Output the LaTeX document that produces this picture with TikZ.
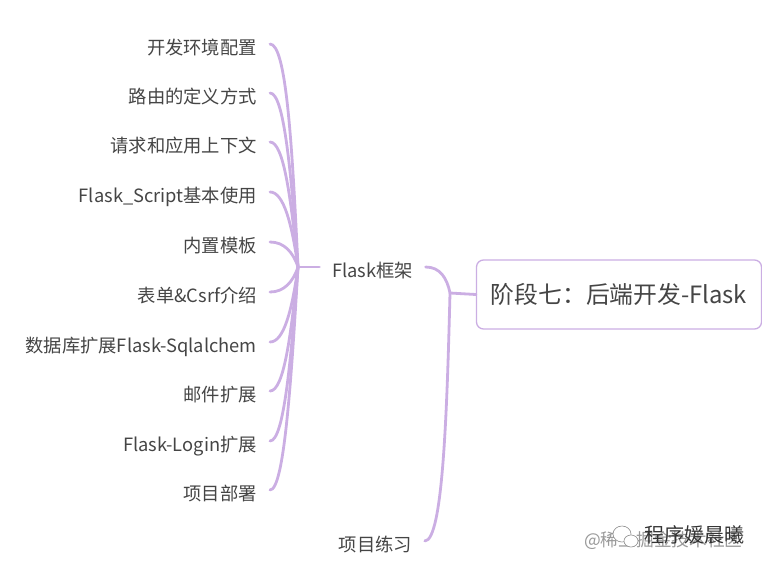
\documentclass[tikz,border=0pt]{standalone}
\usepackage{xcolor}
\usepackage{fontspec}
\setmainfont{Noto Sans CJK SC}
\usetikzlibrary{positioning}
\definecolor{branchpurple}{HTML}{CBAEE3}
\definecolor{labelgray}{HTML}{454545}

\begin{document}
\begin{tikzpicture}[x=1pt, y=-1pt,
		leaf/.style={anchor=east, inner xsep=13pt, inner ysep=0pt, text height=21pt, text depth=0pt, text=labelgray, font=\fontsize{18.3}{18.3}\selectfont},
		topic/.style={leaf, anchor=center, inner xsep=12.5pt},
		rootbox/.style={draw=branchpurple, line width=1.3pt, rounded corners=7pt, minimum width=285pt, minimum height=69pt, inner sep=0pt, text=labelgray, font=\fontsize{23.8}{24}\selectfont},
		branch/.style={branchpurple, line width=2.8pt, line cap=round},
		mark text/.style={inner sep=0pt}]
		\useasboundingbox (0,0) rectangle (762,568);

		% Central box and the two hubs
		\node[rootbox] (root) at (619,294.5) {阶段七：后端开发-Flask};
		\coordinate (hubmain) at (450,293);
		\coordinate (hubflask) at (298,267);

		% Second level
		\node[topic] (flask) at (372.5,267) {Flask框架};
		\node[topic] (practice) at (375.5,541) {项目练习};

		% Leaves of the Flask branch
		\node[leaf] (env) at (270,44) {开发环境配置};
		\node[leaf] (route) at (270,93) {路由的定义方式};
		\node[leaf] (context) at (270,142) {请求和应用上下文};
		\node[leaf] (script) at (270,192) {Flask\_Script基本使用};
		\node[leaf] (template) at (270,242) {内置模板};
		\node[leaf] (form) at (270,292) {表单\&Csrf介绍};
		\node[leaf] (sqlalchemy) at (270,342) {数据库扩展Flask-Sqlalchem};
		\node[leaf] (mail) at (270,391) {邮件扩展};
		\node[leaf] (login) at (270,441) {Flask-Login扩展};
		\node[leaf] (deploy) at (270,490) {项目部署};

		% Connectors from the central box
		\draw[branch] (root.west) -- (hubmain);
		\draw[branch] (flask.east) .. controls (440,267) and (447,278) .. (hubmain);
		\draw[branch] (practice.east) .. controls (443,541) and (447,410) .. (hubmain);
		\draw[branch] (hubflask) -- (flask.west);

		% Connectors to the leaves
		\draw[branch] (env.east) .. controls (286,44) and (292,140) .. (hubflask);
		\draw[branch] (route.east) .. controls (284,93) and (291,170) .. (hubflask);
		\draw[branch] (context.east) .. controls (284,142) and (291,200) .. (hubflask);
		\draw[branch] (script.east) .. controls (284,192) and (292,225) .. (hubflask);
		\draw[branch] (template.east) .. controls (284,242) and (293,252) .. (hubflask);
		\draw[branch] (form.east) .. controls (284,292) and (293,282) .. (hubflask);
		\draw[branch] (sqlalchemy.east) .. controls (284,342) and (292,310) .. (hubflask);
		\draw[branch] (mail.east) .. controls (284,391) and (291,335) .. (hubflask);
		\draw[branch] (login.east) .. controls (284,441) and (291,360) .. (hubflask);
		\draw[branch] (deploy.east) .. controls (284,490) and (291,385) .. (hubflask);

		% Watermarks in the corner
		\node[mark text, text=black!40, anchor=west, font=\fontsize{17.7}{18}\selectfont] (markback) at (584,541) {@稀土掘金技术社区};
		\draw[black!45, fill=white, line width=0.6pt] (622,534) ellipse (9 and 8);
		\draw[black!45, fill=white, line width=0.6pt] (631,541) ellipse (7 and 6);
		\node[mark text, text=black!80, anchor=west, font=\fontsize{20}{20}\selectfont] (markfront) at (644,535) {程序媛晨曦};
	\end{tikzpicture}
\end{document}
